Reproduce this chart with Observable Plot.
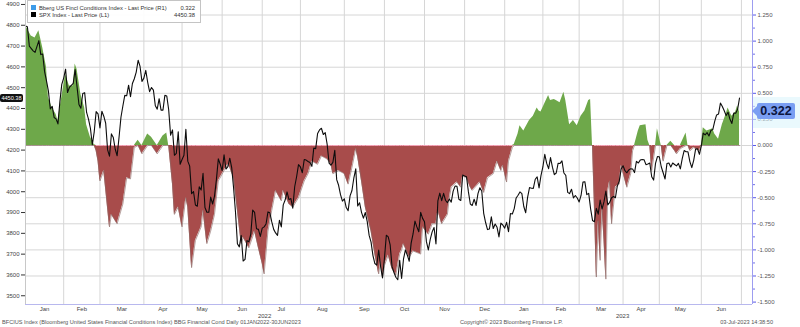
<!DOCTYPE html>
<html><head><meta charset="utf-8">
<script src="https://cdn.jsdelivr.net/npm/d3@7"></script>
<script src="https://cdn.jsdelivr.net/npm/@observablehq/plot@0.6"></script>
<style>
body{margin:0;background:#fff;font-family:"Liberation Sans",Arial,sans-serif}
#wrap{position:relative;width:800px;height:327px;overflow:hidden;background:#fff}
#wrap svg{position:absolute;left:0;top:0}
.ov{position:absolute;white-space:nowrap;font-family:"Liberation Sans",Arial,sans-serif}
</style></head><body><div id="wrap"></div>
<script>
// ---------- DATA ----------
const holidays = ["2022-01-17","2022-02-21","2022-04-15","2022-05-30","2022-06-20","2022-07-04","2022-09-05","2022-11-24","2022-12-26","2023-01-02","2023-01-16","2023-02-20","2023-04-07","2023-05-29","2023-06-19","2023-07-04"];

const spx = [
["2022-01-03",4796],["2022-01-04",4793],["2022-01-05",4700],["2022-01-07",4677],["2022-01-10",4670],["2022-01-12",4726],["2022-01-13",4659],["2022-01-14",4662],["2022-01-18",4577],["2022-01-19",4533],["2022-01-20",4483],["2022-01-21",4398],["2022-01-24",4410],["2022-01-25",4357],["2022-01-26",4350],["2022-01-27",4326],["2022-01-28",4432],["2022-01-31",4516],
["2022-02-01",4546],["2022-02-02",4589],["2022-02-03",4477],["2022-02-04",4501],["2022-02-08",4521],["2022-02-09",4587],["2022-02-10",4504],["2022-02-11",4419],["2022-02-14",4401],["2022-02-15",4472],["2022-02-16",4476],["2022-02-17",4381],["2022-02-18",4349],["2022-02-22",4305],["2022-02-23",4226],["2022-02-24",4288],["2022-02-25",4385],["2022-02-28",4374],
["2022-03-01",4306],["2022-03-02",4387],["2022-03-03",4363],["2022-03-04",4329],["2022-03-07",4201],["2022-03-08",4171],["2022-03-09",4278],["2022-03-10",4260],["2022-03-11",4204],["2022-03-14",4173],["2022-03-15",4262],["2022-03-16",4358],["2022-03-17",4412],["2022-03-18",4463],["2022-03-21",4461],["2022-03-22",4512],["2022-03-23",4457],["2022-03-24",4520],["2022-03-25",4543],["2022-03-28",4575],["2022-03-29",4632],["2022-03-30",4602],["2022-03-31",4530],
["2022-04-01",4546],["2022-04-04",4583],["2022-04-05",4526],["2022-04-06",4481],["2022-04-07",4501],["2022-04-08",4488],["2022-04-11",4413],["2022-04-12",4397],["2022-04-13",4447],["2022-04-14",4392],["2022-04-18",4392],["2022-04-19",4463],["2022-04-20",4460],["2022-04-21",4394],["2022-04-22",4272],["2022-04-25",4297],["2022-04-26",4175],["2022-04-27",4184],["2022-04-28",4288],["2022-04-29",4132],
["2022-05-02",4155],["2022-05-03",4175],["2022-05-04",4300],["2022-05-05",4147],["2022-05-06",4123],["2022-05-09",3991],["2022-05-10",4001],["2022-05-11",3936],["2022-05-12",3930],["2022-05-13",4024],["2022-05-16",4008],["2022-05-17",4088],["2022-05-18",3924],["2022-05-19",3901],["2022-05-20",3901],["2022-05-23",3974],["2022-05-24",3941],["2022-05-25",3979],["2022-05-26",4058],["2022-05-27",4158],["2022-05-31",4132],
["2022-06-01",4101],["2022-06-02",4177],["2022-06-03",4109],["2022-06-06",4121],["2022-06-07",4161],["2022-06-08",4116],["2022-06-09",4018],["2022-06-10",3901],["2022-06-13",3750],["2022-06-14",3735],["2022-06-15",3790],["2022-06-16",3667],["2022-06-17",3675],["2022-06-21",3765],["2022-06-22",3760],["2022-06-23",3796],["2022-06-24",3912],["2022-06-27",3901],["2022-06-28",3822],["2022-06-29",3819],["2022-06-30",3785],
["2022-07-01",3825],["2022-07-05",3831],["2022-07-06",3845],["2022-07-07",3903],["2022-07-08",3899],["2022-07-11",3855],["2022-07-12",3819],["2022-07-13",3802],["2022-07-14",3790],["2022-07-15",3863],["2022-07-18",3831],["2022-07-19",3937],["2022-07-20",3960],["2022-07-21",3999],["2022-07-22",3962],["2022-07-25",3967],["2022-07-26",3921],["2022-07-27",4024],["2022-07-28",4072],["2022-07-29",4130],
["2022-08-01",4119],["2022-08-02",4091],["2022-08-03",4155],["2022-08-04",4152],["2022-08-05",4145],["2022-08-08",4140],["2022-08-09",4122],["2022-08-10",4210],["2022-08-11",4207],["2022-08-12",4280],["2022-08-15",4297],["2022-08-16",4305],["2022-08-17",4275],["2022-08-18",4284],["2022-08-19",4228],["2022-08-22",4138],["2022-08-23",4128],["2022-08-24",4141],["2022-08-25",4199],["2022-08-26",4058],["2022-08-29",4031],["2022-08-30",3986],["2022-08-31",3955],
["2022-09-01",3966],["2022-09-02",3924],["2022-09-06",3909],["2022-09-07",3980],["2022-09-08",4006],["2022-09-09",4067],["2022-09-12",4110],["2022-09-13",3932],["2022-09-14",3947],["2022-09-15",3901],["2022-09-16",3873],["2022-09-19",3900],["2022-09-20",3856],["2022-09-21",3790],["2022-09-22",3758],["2022-09-23",3693],["2022-09-26",3655],["2022-09-27",3647],["2022-09-28",3720],["2022-09-29",3640],["2022-09-30",3586],
["2022-10-03",3678],["2022-10-04",3791],["2022-10-05",3783],["2022-10-06",3745],["2022-10-07",3640],["2022-10-10",3612],["2022-10-11",3589],["2022-10-12",3577],["2022-10-13",3670],["2022-10-14",3583],["2022-10-17",3677],["2022-10-18",3720],["2022-10-19",3695],["2022-10-20",3666],["2022-10-21",3753],["2022-10-24",3797],["2022-10-25",3859],["2022-10-26",3831],["2022-10-27",3808],["2022-10-28",3901],["2022-10-31",3872],
["2022-11-01",3856],["2022-11-02",3760],["2022-11-03",3720],["2022-11-04",3771],["2022-11-07",3807],["2022-11-08",3828],["2022-11-09",3749],["2022-11-10",3956],["2022-11-11",3993],["2022-11-14",3957],["2022-11-15",3992],["2022-11-16",3959],["2022-11-17",3947],["2022-11-18",3965],["2022-11-21",3950],["2022-11-22",4003],["2022-11-23",4027],["2022-11-25",4026],["2022-11-28",3964],["2022-11-29",3958],["2022-11-30",4080],
["2022-12-01",4076],["2022-12-02",4072],["2022-12-05",3999],["2022-12-06",3941],["2022-12-07",3934],["2022-12-08",3964],["2022-12-09",3934],["2022-12-12",3991],["2022-12-13",4019],["2022-12-14",4002],["2022-12-15",3896],["2022-12-16",3852],["2022-12-19",3818],["2022-12-20",3821],["2022-12-21",3879],["2022-12-22",3823],["2022-12-23",3845],["2022-12-27",3829],["2022-12-28",3783],["2022-12-29",3849],["2022-12-30",3840],
["2023-01-03",3825],["2023-01-04",3853],["2023-01-05",3808],["2023-01-06",3895],["2023-01-09",3893],["2023-01-10",3919],["2023-01-11",3970],["2023-01-12",3983],["2023-01-13",3999],["2023-01-17",3991],["2023-01-18",3929],["2023-01-19",3899],["2023-01-20",3973],["2023-01-23",4020],["2023-01-24",4017],["2023-01-25",4016],["2023-01-26",4060],["2023-01-27",4071],["2023-01-30",4018],["2023-01-31",4077],
["2023-02-01",4119],["2023-02-02",4180],["2023-02-03",4136],["2023-02-06",4111],["2023-02-07",4164],["2023-02-08",4118],["2023-02-09",4082],["2023-02-10",4090],["2023-02-13",4137],["2023-02-14",4136],["2023-02-15",4148],["2023-02-16",4090],["2023-02-17",4079],["2023-02-21",3997],["2023-02-22",3991],["2023-02-23",4012],["2023-02-24",3970],["2023-02-27",3982],["2023-02-28",3970],
["2023-03-01",3951],["2023-03-02",3982],["2023-03-03",4046],["2023-03-06",4048],["2023-03-07",3986],["2023-03-08",3992],["2023-03-09",3918],["2023-03-10",3862],["2023-03-13",3856],["2023-03-14",3920],["2023-03-15",3892],["2023-03-16",3960],["2023-03-17",3917],["2023-03-20",3951],["2023-03-21",4003],["2023-03-22",3937],["2023-03-23",3949],["2023-03-24",3971],["2023-03-27",3977],["2023-03-28",3971],["2023-03-29",4028],["2023-03-30",4051],["2023-03-31",4109],
["2023-04-03",4125],["2023-04-04",4101],["2023-04-05",4091],["2023-04-06",4105],["2023-04-10",4110],["2023-04-11",4109],["2023-04-12",4092],["2023-04-13",4146],["2023-04-14",4138],["2023-04-17",4152],["2023-04-18",4155],["2023-04-19",4154],["2023-04-20",4130],["2023-04-21",4133],["2023-04-24",4138],["2023-04-25",4072],["2023-04-26",4056],["2023-04-27",4136],["2023-04-28",4169],
["2023-05-01",4168],["2023-05-02",4120],["2023-05-03",4091],["2023-05-04",4061],["2023-05-05",4136],["2023-05-08",4138],["2023-05-09",4119],["2023-05-10",4138],["2023-05-11",4131],["2023-05-12",4124],["2023-05-15",4136],["2023-05-16",4110],["2023-05-17",4159],["2023-05-18",4198],["2023-05-19",4192],["2023-05-22",4192],["2023-05-23",4145],["2023-05-24",4116],["2023-05-25",4151],["2023-05-26",4205],["2023-05-30",4206],["2023-05-31",4180],
["2023-06-01",4221],["2023-06-02",4282],["2023-06-05",4273],["2023-06-06",4284],["2023-06-07",4268],["2023-06-08",4294],["2023-06-09",4299],["2023-06-12",4338],["2023-06-13",4369],["2023-06-14",4373],["2023-06-15",4426],["2023-06-16",4410],["2023-06-20",4389],["2023-06-21",4366],["2023-06-22",4382],["2023-06-23",4348],["2023-06-26",4328],["2023-06-27",4378],["2023-06-28",4377],["2023-06-29",4396],["2023-06-30",4450.38]
];

const fci = [
["2022-01-03",1.15],["2022-01-06",1.05],["2022-01-10",1.03],["2022-01-12",1.10],["2022-01-14",0.94],["2022-01-19",0.75],["2022-01-20",0.46],["2022-01-24",0.36],["2022-01-26",0.30],["2022-01-27",0.24],["2022-01-31",0.46],
["2022-02-02",0.68],["2022-02-04",0.57],["2022-02-08",0.57],["2022-02-09",0.78],["2022-02-10",0.73],["2022-02-14",0.49],["2022-02-16",0.36],["2022-02-17",0.20],["2022-02-22",0.08],["2022-02-24",0.01],["2022-02-25",-0.05],["2022-02-28",-0.15],
["2022-03-01",-0.34],["2022-03-03",-0.24],["2022-03-08",-0.78],["2022-03-09",-0.66],["2022-03-14",-0.75],["2022-03-17",-0.56],["2022-03-21",-0.31],["2022-03-23",-0.32],["2022-03-25",-0.02],["2022-03-29",0.05],["2022-03-31",-0.08],
["2022-04-05",0.11],["2022-04-07",0.08],["2022-04-12",-0.08],["2022-04-18",0.09],["2022-04-20",0.12],["2022-04-21",0.00],["2022-04-25",-0.37],["2022-04-26",-0.66],["2022-04-28",-0.59],
["2022-05-02",-0.78],["2022-05-04",-0.50],["2022-05-05",-0.59],["2022-05-09",-1.17],["2022-05-11",-0.91],["2022-05-16",-0.78],["2022-05-17",-0.62],["2022-05-19",-0.94],["2022-05-23",-0.82],["2022-05-25",-0.66],["2022-05-27",-0.34],
["2022-06-02",-0.24],["2022-06-06",-0.18],["2022-06-07",-0.21],["2022-06-09",-0.31],["2022-06-13",-0.62],["2022-06-15",-0.94],["2022-06-16",-0.88],["2022-06-22",-0.98],["2022-06-27",-0.82],["2022-06-29",-0.98],
["2022-07-01",-1.13],["2022-07-05",-1.23],["2022-07-07",-0.82],["2022-07-11",-0.62],["2022-07-13",-0.43],["2022-07-18",-0.53],["2022-07-19",-0.43],["2022-07-22",-0.56],["2022-07-26",-0.59],["2022-07-29",-0.50],
["2022-08-03",-0.34],["2022-08-05",-0.27],["2022-08-09",-0.15],["2022-08-12",-0.18],["2022-08-16",-0.10],["2022-08-19",-0.13],["2022-08-23",-0.18],["2022-08-24",-0.27],["2022-08-29",-0.24],
["2022-09-01",-0.27],["2022-09-06",-0.37],["2022-09-08",-0.21],["2022-09-12",-0.03],["2022-09-13",-0.11],["2022-09-15",-0.34],["2022-09-19",-0.59],["2022-09-22",-0.82],["2022-09-26",-1.04],["2022-09-28",-1.23],["2022-09-29",-1.10],["2022-09-30",-1.26],
["2022-10-03",-1.15],["2022-10-05",-1.05],["2022-10-07",-1.18],["2022-10-11",-1.24],["2022-10-13",-1.04],["2022-10-14",-1.00],["2022-10-17",-0.94],["2022-10-20",-1.07],["2022-10-24",-1.01],["2022-10-28",-1.04],["2022-10-31",-0.78],
["2022-11-03",-0.85],["2022-11-07",-0.75],["2022-11-09",-0.75],["2022-11-10",-0.62],["2022-11-14",-0.75],["2022-11-17",-0.66],["2022-11-18",-0.50],["2022-11-21",-0.40],["2022-11-25",-0.35],["2022-11-29",-0.40],["2022-11-30",-0.29],
["2022-12-02",-0.31],["2022-12-06",-0.40],["2022-12-07",-0.43],["2022-12-13",-0.35],["2022-12-15",-0.45],["2022-12-19",-0.31],["2022-12-22",-0.27],["2022-12-27",-0.15],["2022-12-29",-0.24],["2022-12-30",-0.19],
["2023-01-04",-0.35],["2023-01-05",-0.15],["2023-01-09",-0.02],["2023-01-10",0.01],["2023-01-12",0.11],["2023-01-13",0.19],["2023-01-18",0.14],["2023-01-23",0.24],["2023-01-25",0.28],["2023-01-27",0.36],["2023-01-30",0.33],["2023-01-31",0.32],
["2023-02-02",0.40],["2023-02-06",0.48],["2023-02-07",0.43],["2023-02-09",0.44],["2023-02-10",0.43],["2023-02-14",0.41],["2023-02-16",0.51],["2023-02-17",0.43],["2023-02-22",0.20],["2023-02-24",0.24],["2023-02-28",0.19],
["2023-03-02",0.28],["2023-03-06",0.33],["2023-03-08",0.43],["2023-03-09",0.44],["2023-03-10",0.00],["2023-03-13",-0.59],["2023-03-14",-1.26],["2023-03-15",-0.72],["2023-03-16",-1.10],["2023-03-17",-0.59],["2023-03-20",-0.90],["2023-03-21",-1.28],["2023-03-22",-0.43],["2023-03-23",-0.34],["2023-03-24",-0.75],["2023-03-28",-0.40],["2023-03-30",-0.37],["2023-03-31",-0.19],
["2023-04-05",-0.40],["2023-04-10",-0.27],["2023-04-11",-0.05],["2023-04-12",0.00],["2023-04-14",0.14],["2023-04-17",0.19],["2023-04-20",0.20],["2023-04-21",0.05],["2023-04-24",0.00],["2023-04-25",-0.24],["2023-04-27",0.00],["2023-04-28",0.16],
["2023-05-02",0.00],["2023-05-03",-0.15],["2023-05-05",0.00],["2023-05-09",0.04],["2023-05-11",-0.05],["2023-05-12",-0.08],["2023-05-16",-0.03],["2023-05-19",0.12],["2023-05-22",0.00],["2023-05-23",-0.05],["2023-05-25",-0.02],["2023-05-31",-0.05],
["2023-06-01",0.00],["2023-06-02",0.17],["2023-06-06",0.14],["2023-06-09",0.16],["2023-06-12",0.11],["2023-06-14",0.06],["2023-06-16",0.20],["2023-06-21",0.30],["2023-06-22",0.36],["2023-06-26",0.28],["2023-06-28",0.32],["2023-06-29",0.38],["2023-06-30",0.322]
];

const monthLabels = ["Jan","Feb","Mar","Apr","May","Jun","Jul","Aug","Sep","Oct","Nov","Dec","Jan","Feb","Mar","Apr","May","Jun"];
const yearLabels = ["2022","2023"];
const leftTicks = [3500,3600,3700,3800,3900,4000,4100,4200,4300,4400,4500,4600,4700,4800,4900];
const rightTicks = [1.25,1.0,0.75,0.5,0.25,0,-0.25,-0.5,-0.75,-1.0,-1.25,-1.5];
const legendItems = [
  {name:"Bberg US Fincl Conditions Index - Last Price (R1)", value:"0.322", color:"#3d9be9"},
  {name:"SPX Index - Last Price (L1)", value:"4450.38", color:"#000"}
];
const footer = {
  left:"BFCIUS Index (Bloomberg United States Financial Conditions Index) BBG Financial Cond  Daily 01JAN2022-30JUN2023",
  mid:"Copyright\u00A9 2023 Bloomberg Finance L.P.",
  right:"03-Jul-2023 14:38:50"
};

// ---------- trading-day calendar (x axis is in sessions) ----------
const iso = d => d.toISOString().slice(0,10);
const hol = new Set(holidays);
const sessions = d3.utcDay.range(new Date(Date.UTC(2022,0,3)), new Date(Date.UTC(2023,6,8)))
  .filter(d => d.getUTCDay() % 6 !== 0 && !hol.has(iso(d)));
const idx = new Map(sessions.map((d,i)=>[iso(d), i]));
const monthStartsAll = [];
sessions.forEach((d,i)=>{ if (i===0 || d.getUTCMonth() !== sessions[i-1].getUTCMonth()) monthStartsAll.push({i, y:d.getUTCFullYear(), m:d.getUTCMonth()}); });
const months = monthStartsAll.slice(0, 18).map((s,k)=>({label: monthLabels[k], mid:(s.i + monthStartsAll[k+1].i)/2}));
const gridStarts = monthStartsAll.slice(1, 19).map(s=>s.i);
const years = yearLabels.map((yl) => {
  const ms = months.filter((m,k)=> monthStartsAll[k].y === +yl);
  return {label: yl, mid: (d3.min(ms, m=>m.mid) + d3.max(ms, m=>m.mid))/2};
});

// right axis (FCI) maps onto left (SPX) units
const toS = f => 4222.1 + 501.7*f;
const fromS = s => (s - 4222.1)/501.7;

const spxData = spx.map(([d,v])=>({i: idx.get(d), v}));
const fciData = fci.map(([d,v])=>({i: idx.get(d), f:v}));
const xMax = 380.8;
const minorTicks = rightTicks.slice(0,-1).map((t,k)=>(t + rightTicks[k+1])/2);

const chart = Plot.plot({
  width: 800, height: 327,
  marginLeft: 25, marginRight: 48, marginTop: 0, marginBottom: 23,
  style: {fontFamily: "'Liberation Sans', Arial, sans-serif", background: "transparent", overflow: "visible"},
  x: {type: "linear", domain: [0, xMax], axis: null},
  y: {domain: [3458, 4919], axis: null},
  marks: [
    Plot.ruleY(rightTicks.slice(0,-1).map(toS), {stroke: "#d6d6d6", strokeWidth: 1}),
    Plot.ruleX(gridStarts, {stroke: "#d6d6d6", strokeWidth: 1}),
    Plot.areaY(fciData, {x: "i", y1: toS(0), y2: d => toS(Math.max(d.f, 0)), fill: "#6ea84a"}),
    Plot.areaY(fciData, {x: "i", y1: toS(0), y2: d => toS(Math.min(d.f, 0)), fill: "#a84c4b"}),
    Plot.line(fciData, {x: "i", y: d => toS(Math.min(d.f, 0)), stroke: "#8c6a66", strokeWidth: 0.8, strokeOpacity: 0.8}),
    Plot.line(fciData, {x: "i", y: d => d.f < 0 ? toS(0) : NaN, stroke: "#f2a2b6", strokeWidth: 1}),
    Plot.line(spxData, {x: "i", y: "v", stroke: "#0d0d0d", strokeWidth: 1.1}),
    // left axis
    Plot.ruleX([0], {stroke: "#c8c8c8"}),
    Plot.axisY(leftTicks, {anchor: "left", label: null, tickSize: 4, tickPadding: 2, fontSize: 6, color: "#444", stroke: "#333",
      tickFormat: d => String(d)}),
    // right axis
    Plot.ruleX([xMax], {stroke: "#9d9df0", strokeWidth: 1}),
    Plot.ruleY([3458], {stroke: "#b8b8ee", strokeWidth: 1}),
    Plot.axisY(minorTicks.map(toS), {anchor: "right", label: null, tickSize: 2, tickFormat: () => "", stroke: "#7070e8"}),
    Plot.axisY(rightTicks.map(toS), {anchor: "right", label: null, tickSize: 3, tickPadding: 2, fontSize: 6, color: "#555", stroke: "#5a5ae8",
      tickFormat: s => (Math.round(fromS(s)*1000)/1000).toFixed(3)}),
    // x labels
    Plot.text(months, {x: "mid", y: 3458, text: "label", dy: 5, fontSize: 6, fill: "#444"}),
    Plot.text(years, {x: "mid", y: 3458, text: "label", dy: 12, fontSize: 6, fill: "#444"})
  ]
});

const wrap = document.getElementById("wrap");
wrap.appendChild(chart);
const ys = chart.scale("y");

// legend box
const lg = document.createElement("div");
lg.className = "ov";
lg.style.cssText = "left:27px;top:0px;width:172px;height:21px;border:1px solid #c4c4c4;background:rgba(255,255,255,0.92);font-size:5.8px;color:#333;";
legendItems.forEach((it,k)=>{
  const row = document.createElement("div");
  row.style.cssText = `position:absolute;left:3px;top:${4+k*7}px;width:164px;height:6px;line-height:6px;`;
  row.innerHTML = `<span style="display:inline-block;width:5px;height:5px;background:${it.color};vertical-align:top;margin-right:3px"></span>${it.name}<span style="position:absolute;right:0">${it.value}</span>`;
  lg.appendChild(row);
});
wrap.appendChild(lg);

// last value tags
const lastS = spx[spx.length-1][1];
const tagL = document.createElement("div");
tagL.className = "ov";
tagL.style.cssText = `left:0px;top:${ys.apply(lastS)-4}px;width:23px;height:8px;line-height:8px;background:#111;color:#fff;font-size:5.6px;text-align:center;border-radius:2px;`;
tagL.textContent = String(lastS);
wrap.appendChild(tagL);

const lastF = fci[fci.length-1][1];
const yF = ys.apply(toS(lastF));
const band = document.createElement("div");
band.className = "ov";
band.style.cssText = `left:753px;top:${yF-14}px;width:47px;height:31px;background:rgba(220,245,252,0.6);`;
wrap.appendChild(band);
const tagR = document.createElement("div");
tagR.className = "ov";
tagR.style.cssText = `left:757px;top:${yF-8}px;width:38px;height:16px;line-height:16px;background:#7a9ef2;color:#0b1640;font-weight:bold;font-size:12.5px;text-align:center;border-radius:2px;`;
tagR.textContent = String(lastF);
wrap.appendChild(tagR);
const arrow = document.createElement("div");
arrow.className = "ov";
arrow.style.cssText = `left:752px;top:${yF-5}px;width:0;height:0;border-top:5px solid transparent;border-bottom:5px solid transparent;border-right:5px solid #7a9ef2;`;
wrap.appendChild(arrow);

// footer
[["left", 2, "left"], ["mid", 460, "left"], ["right", 773, "right"]].forEach(([k, x, al])=>{
  const f = document.createElement("div");
  f.className = "ov";
  const pos = al === "left" ? `left:${x}px;` : `right:${800-x}px;`;
  f.style.cssText = pos + "top:319px;font-size:5.6px;color:#555;line-height:7px;";
  f.textContent = footer[k];
  wrap.appendChild(f);
});
</script></body></html>
